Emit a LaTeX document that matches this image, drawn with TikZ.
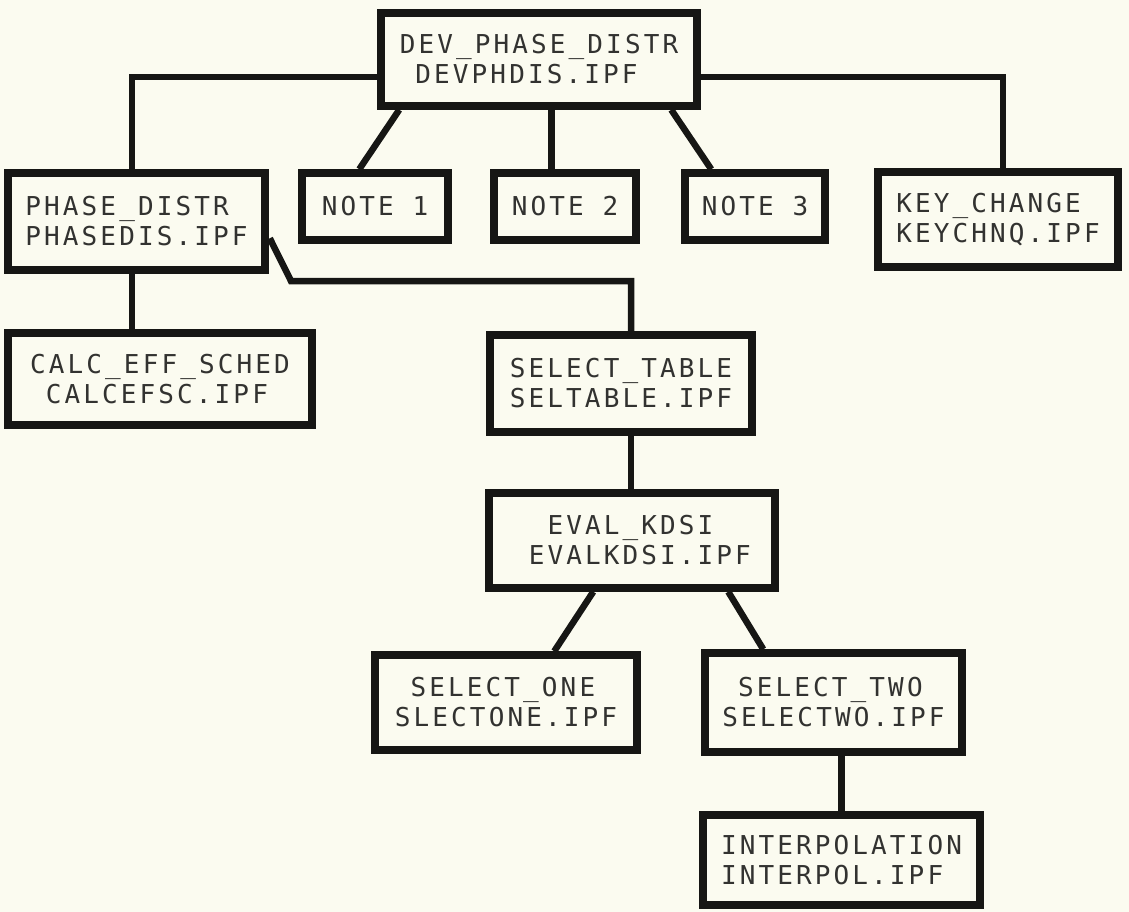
\documentclass[tikz,border=0pt]{standalone}
\usepackage{fontspec}
\usetikzlibrary{calc}
\newfontfamily\plotfont[LetterSpace=12]{DejaVu Sans Mono}
\definecolor{paper}{RGB}{251,251,240}
\definecolor{ink}{RGB}{22,22,20}
\begin{document}
\begin{tikzpicture}[x=1pt,y=-1pt,
  box/.style={draw=ink, line width=7.5pt, inner sep=0pt, text=ink!88, align=left,
    font=\plotfont\fontsize{26}{30}\selectfont},
  link/.style={draw=ink, line width=6.5pt}]
\fill[paper] (0,0) rectangle (1129,912);
\useasboundingbox (0,0) rectangle (1129,912);

% module boxes (centre, outer size)
\node[box, minimum width=316pt, minimum height=93pt] (dev) at (539,59.5)
  {DEV\_PHASE\_DISTR\\\hphantom{D}DEVPHDIS.IPF};
\node[box, minimum width=257pt, minimum height=97pt] (phase) at (136.5,221.5)
  {PHASE\_DISTR\\PHASEDIS.IPF};
\node[box, minimum width=146pt, minimum height=67pt] (note1) at (375,206.5) {NOTE 1};
\node[box, minimum width=142pt, minimum height=67pt] (note2) at (565,206.5) {NOTE 2};
\node[box, minimum width=140pt, minimum height=67pt] (note3) at (755,206.5) {NOTE 3};
\node[box, minimum width=240pt, minimum height=95pt] (key) at (998,219.5)
  {KEY\_CHANGE\\KEYCHNQ.IPF};
\node[box, minimum width=304pt, minimum height=92pt] (calc) at (160,379)
  {CALC\_EFF\_SCHED\\\hphantom{C}CALCEFSC.IPF};
\node[box, minimum width=262pt, minimum height=97pt] (seltab) at (621,383.5)
  {SELECT\_TABLE\\SELTABLE.IPF};
\node[box, minimum width=286pt, minimum height=95pt] (eval) at (632,540.5)
  {\hphantom{EE}EVAL\_KDSI\\\hphantom{E}EVALKDSI.IPF};
\node[box, minimum width=262pt, minimum height=95pt] (selone) at (506,702.5)
  {\hphantom{S}SELECT\_ONE\\SLECTONE.IPF};
\node[box, minimum width=257pt, minimum height=99pt] (seltwo) at (833.5,702.5)
  {\hphantom{S}SELECT\_TWO\\SELECTWO.IPF};
\node[box, minimum width=277pt, minimum height=90pt] (interp) at (841.5,860)
  {INTERPOLATION\\INTERPOL.IPF};

% junction points of the connector runs
\coordinate (busl) at (132,77);
\coordinate (busr) at (1003,77);
\coordinate (bend) at (291,281);
\coordinate (drop) at (631,281);

% connectors
\draw[link] (busl -| dev.west) -- (busl) -- (busl |- phase.north);
\draw[link] (busr -| dev.east) -- (busr) -- (busr |- key.north);
\draw[link] ($(dev.south west)+(22,0)$) -- ($(note1.north west)+(61,0)$);
\draw[link] ($(dev.south west)+(174,0)$) -- ($(note2.north west)+(61,0)$);
\draw[link] ($(dev.south west)+(294,0)$) -- ($(note3.north west)+(30,0)$);
\draw[link] ($(phase.north east)+(1,69)$) -- (bend) -- (drop) -- (drop |- seltab.north);
\draw[link] (busl |- phase.south) -- (busl |- calc.north);
\draw[link] (drop |- seltab.south) -- (drop |- eval.north);
\draw[link] ($(eval.south west)+(108,0)$) -- ($(selone.north west)+(183,0)$);
\draw[link] ($(eval.south west)+(243,0)$) -- ($(seltwo.north west)+(62,0)$);
\draw[link] ($(seltwo.south west)+(140,0)$) -- ($(interp.north west)+(142,0)$);
\end{tikzpicture}
\end{document}
